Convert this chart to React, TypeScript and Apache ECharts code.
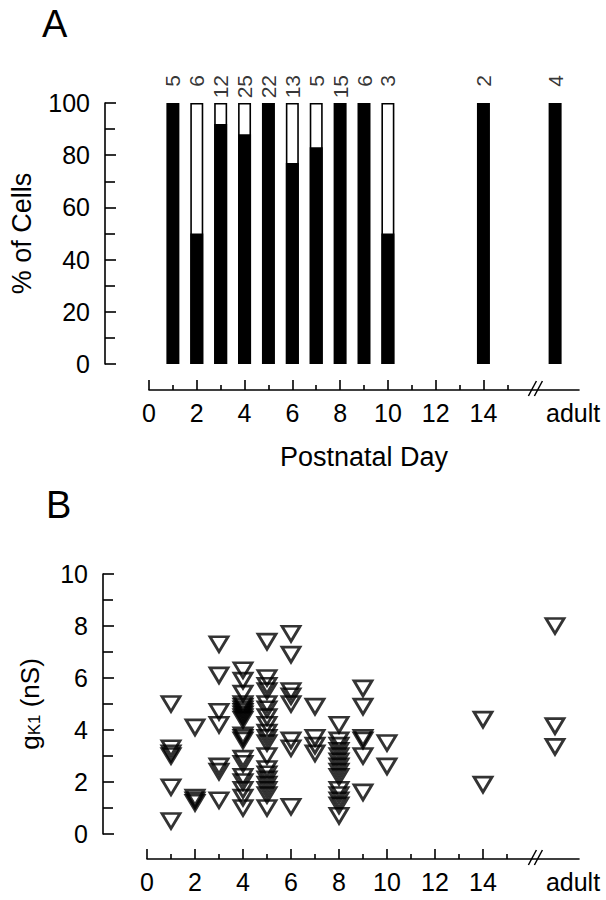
import React, { useEffect, useRef } from 'react';
import * as echarts from 'echarts';

const FONT = '"Liberation Sans", Arial, Helvetica, sans-serif';

// Panel A: percentage of cells (black = expressing, white = remaining), per postnatal day
const barDays = [1, 2, 3, 4, 5, 6, 7, 8, 9, 10, 14, 17]; // 17 = "adult" position after the axis break
const pctBlack = [100, 50, 92, 88, 100, 77, 83, 100, 100, 50, 100, 100];
const cellCounts = [5, 6, 12, 25, 22, 13, 5, 15, 6, 3, 2, 4];

// Panel B: gK1 (nS) per postnatal day
const gk1Days = [1, 2, 3, 4, 5, 6, 7, 8, 9, 10, 14, 17];
const gk1Day1 = [5.0, 3.3, 3.1, 3.0, 1.8, 0.5];
const gk1Day2 = [4.1, 1.4, 1.3, 1.2];
const gk1Day3 = [7.3, 6.1, 4.7, 4.2, 2.6, 2.4, 1.3];
const gk1Day4 = [6.3, 5.9, 5.4, 5.0, 4.9, 4.8, 4.7, 4.6, 4.5, 4.4, 3.8, 3.7, 3.6, 2.9, 2.7, 2.2, 2.0, 1.7, 1.4, 1.0];
const gk1Day5 = [7.4, 6.0, 5.7, 5.5, 5.0, 4.8, 4.5, 4.2, 3.9, 3.7, 3.5, 3.0, 2.5, 2.3, 2.1, 1.9, 1.7, 1.5, 1.0];
const gk1Day6 = [7.7, 6.9, 5.5, 5.3, 5.0, 3.6, 3.3, 1.05];
const gk1Day7 = [4.9, 3.7, 3.4, 3.1];
const gk1Day8 = [4.2, 3.6, 3.4, 3.2, 3.0, 2.8, 2.6, 2.4, 2.2, 1.7, 1.5, 1.3, 1.1, 0.7];
const gk1Day9 = [5.6, 4.9, 3.7, 3.6, 3.0, 1.6];
const gk1Day10 = [3.5, 2.6];
const gk1Day14 = [4.4, 1.9];
const gk1Adult = [8.0, 4.15, 3.35];
const gk1Groups = [gk1Day1, gk1Day2, gk1Day3, gk1Day4, gk1Day5, gk1Day6, gk1Day7, gk1Day8, gk1Day9, gk1Day10, gk1Day14, gk1Adult];

// Axis ticks / labels
const majorTicksX = [0, 2, 4, 6, 8, 10, 12, 14];
const minorTicksX = [1, 3, 5, 7, 9, 11, 13, 15];
const ADULT = 17;
const ADULT_LABEL = 'adult';
const X_MAX = 18;

const GRID_LEFT = 147;
const GRID_RIGHT = 27;
const A_TOP = 103;
const A_H = 261;
const B_TOP = 574;
const B_H = 260;

const LINE = { color: '#000', width: 1.6 };

function xAxes(grid: number, offset: number, name: string) {
  const common = {
    gridIndex: grid,
    type: 'value',
    position: 'bottom',
    min: 0,
    max: X_MAX,
    interval: 1,
    offset,
    splitLine: { show: false },
  };
  return [
    {
      ...common,
      name,
      nameLocation: 'middle',
      nameGap: 53,
      nameTextStyle: { color: '#000', fontSize: 27, fontFamily: FONT },
      axisLine: { show: true, onZero: false, lineStyle: LINE },
      axisTick: { show: true, inside: true, length: 10, customValues: majorTicksX, lineStyle: LINE },
      axisLabel: {
        show: true,
        customValues: [...majorTicksX, ADULT],
        margin: 10,
        color: '#000',
        fontSize: 25,
        fontFamily: FONT,
        formatter: (v: number) => (v === ADULT ? '{ad|' + ADULT_LABEL + '}' : String(v)),
        rich: { ad: { fontSize: 25, fontFamily: FONT, color: '#000', padding: [0, 0, 0, 36] } },
      },
    },
    {
      ...common,
      axisLine: { show: false, onZero: false },
      axisTick: { show: true, inside: true, length: 5, customValues: minorTicksX, lineStyle: LINE },
      axisLabel: { show: false },
    },
  ];
}

function yAxis(grid: number, max: number, interval: number) {
  return {
    gridIndex: grid,
    type: 'value',
    position: 'left',
    min: 0,
    max,
    interval,
    offset: 44,
    splitLine: { show: false },
    axisLine: { show: true, onZero: false, lineStyle: LINE },
    axisTick: { show: true, inside: true, length: 11, lineStyle: LINE },
    minorTick: { show: true, splitNumber: 2, length: 10, lineStyle: LINE },
    axisLabel: { color: '#000', fontSize: 25, fontFamily: FONT, margin: 15 },
    nameLocation: 'middle',
    nameRotate: 90,
  };
}

function breakMarks(axisY: number) {
  const x0 = GRID_LEFT + 16.1 * 24;
  return {
    type: 'group',
    children: [
      { type: 'rect', shape: { x: x0 - 1, y: axisY - 2, width: 6, height: 4 }, style: { fill: '#fff' } },
      { type: 'line', shape: { x1: x0 - 5, y1: axisY + 6, x2: x0 + 3, y2: axisY - 9 }, style: { stroke: '#000', lineWidth: 1.5 } },
      { type: 'line', shape: { x1: x0 + 1, y1: axisY + 6, x2: x0 + 9, y2: axisY - 9 }, style: { stroke: '#000', lineWidth: 1.5 } },
    ],
  };
}

export default function App() {
  const ref = useRef<HTMLDivElement>(null);
  useEffect(() => {
    if (!ref.current) return;
    const chart = echarts.init(ref.current, undefined, { renderer: 'svg' });
    const scatterData: number[][] = [];
    gk1Groups.forEach((g, i) => g.forEach((v) => scatterData.push([gk1Days[i], v])));

    chart.setOption({
      animation: false,
      backgroundColor: '#fff',
      textStyle: { fontFamily: FONT },
      title: [
        { text: 'A', left: 37, top: 0, textStyle: { fontSize: 38, fontWeight: 'normal', color: '#000', fontFamily: FONT } },
        { text: 'B', left: 41, top: 481, textStyle: { fontSize: 38, fontWeight: 'normal', color: '#000', fontFamily: FONT } },
      ],
      grid: [
        { left: GRID_LEFT, right: GRID_RIGHT, top: A_TOP, height: A_H },
        { left: GRID_LEFT, right: GRID_RIGHT, top: B_TOP, height: B_H },
      ],
      xAxis: [...xAxes(0, 26, 'Postnatal Day'), ...xAxes(1, 25, '')],
      yAxis: [
        {
          ...yAxis(0, 100, 20),
          name: '% of Cells',
          nameGap: 70,
          nameTextStyle: { color: '#000', fontSize: 27, fontFamily: FONT },
        },
        {
          ...yAxis(1, 10, 2),
          name: '{g|g}{s|K1}{g| (nS)}',
          nameGap: 60,
          nameTextStyle: {
            color: '#000',
            fontFamily: FONT,
            rich: {
              g: { fontSize: 26, fontFamily: FONT, color: '#000' },
              s: { fontSize: 17, fontFamily: FONT, color: '#000', verticalAlign: 'bottom', padding: [10, 0, 0, 0] },
            },
          },
        },
      ],
      graphic: [breakMarks(A_TOP + A_H + 26), breakMarks(B_TOP + B_H + 25)],
      series: [
        {
          type: 'bar',
          xAxisIndex: 0,
          yAxisIndex: 0,
          barWidth: 13,
          barGap: '-100%',
          data: barDays.map((d, i) => (pctBlack[i] < 100 ? [d, 100] : [d, null])),
          itemStyle: { color: '#fff', borderColor: '#000', borderWidth: 1.6 },
          silent: true,
        },
        {
          type: 'bar',
          xAxisIndex: 0,
          yAxisIndex: 0,
          barWidth: 13,
          barGap: '-100%',
          data: barDays.map((d, i) => [d, pctBlack[i]]),
          itemStyle: { color: '#000' },
          silent: true,
        },
        {
          type: 'scatter',
          xAxisIndex: 0,
          yAxisIndex: 0,
          symbolSize: 0,
          data: barDays.map((d, i) => [d, 100, cellCounts[i]]),
          label: {
            show: true,
            position: 'top',
            distance: 28,
            rotate: 90,
            align: 'right',
            verticalAlign: 'middle',
            fontSize: 21,
            fontFamily: FONT,
            color: '#000',
            formatter: (p: any) => String(p.value[2]),
          },
          silent: true,
        },
        {
          type: 'scatter',
          xAxisIndex: 2,
          yAxisIndex: 1,
          symbol: 'triangle',
          symbolRotate: 180,
          symbolSize: [18, 15],
          data: scatterData,
          itemStyle: { color: 'rgba(0,0,0,0)', borderColor: '#000', borderWidth: 2.8 },
          silent: true,
        },
      ],
    });
    return () => chart.dispose();
  }, []);
  return <div ref={ref} style={{ position: 'fixed', left: 0, top: 0, width: 606, height: 900 }} />;
}
